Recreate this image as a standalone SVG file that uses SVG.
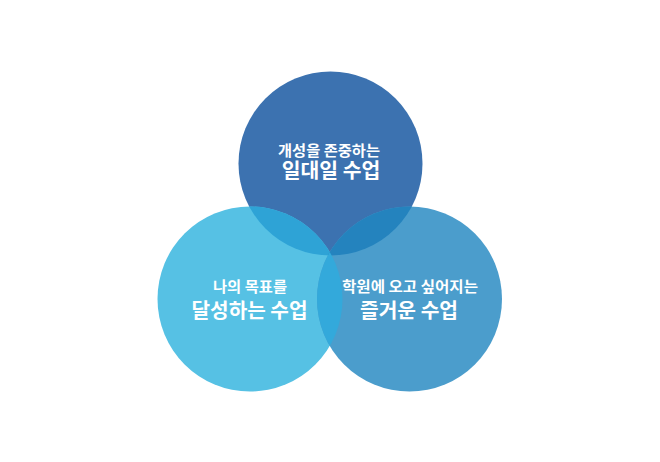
<svg xmlns="http://www.w3.org/2000/svg" width="660" height="462" viewBox="0 0 660 462">
  <style>
    .sm { font-family: "Noto Sans CJK KR", "Noto Sans", sans-serif; font-size: 14.5px; font-weight: 700; fill: #ffffff; text-anchor: middle; }
    .lg { font-family: "Noto Sans CJK KR", "Noto Sans", sans-serif; font-size: 20px; font-weight: 700; fill: #ffffff; text-anchor: middle; }
  </style>
  <defs>
    <clipPath id="cT"><circle cx="330.5" cy="163.5" r="92"/></clipPath>
    <clipPath id="cL"><circle cx="250" cy="299" r="92.5"/></clipPath>
  </defs>
  <rect width="660" height="462" fill="#ffffff"/>
  <g id="circles">
    <circle cx="330.5" cy="163.5" r="92" fill="#3C72B0"/>
    <circle cx="250" cy="299" r="92.5" fill="#56C1E4"/>
    <circle cx="409.5" cy="299" r="92.5" fill="#4B9DCC"/>
    <g clip-path="url(#cT)">
      <circle cx="250" cy="299" r="92.5" fill="#2EA3D6"/>
      <circle cx="409.5" cy="299" r="92.5" fill="#2483BE"/>
    </g>
    <g clip-path="url(#cL)">
      <circle cx="409.5" cy="299" r="92.5" fill="#33A9DB"/>
    </g>
  </g>
  <g id="node-top">
    <text class="sm" x="329" y="155.5" textLength="102" lengthAdjust="spacingAndGlyphs">개성을 존중하는</text>
    <text class="lg" x="331" y="178" textLength="98.5" lengthAdjust="spacingAndGlyphs">일대일 수업</text>
  </g>
  <g id="node-left">
    <text class="sm" x="250" y="291.5" textLength="74" lengthAdjust="spacingAndGlyphs">나의 목표를</text>
    <text class="lg" x="249.5" y="317.5" textLength="116" lengthAdjust="spacingAndGlyphs">달성하는 수업</text>
  </g>
  <g id="node-right">
    <text class="sm" x="410" y="291.5" textLength="136" lengthAdjust="spacingAndGlyphs">학원에 오고 싶어지는</text>
    <text class="lg" x="409" y="317.5" textLength="98" lengthAdjust="spacingAndGlyphs">즐거운 수업</text>
  </g>
  <g id="connectors"></g>
</svg>
